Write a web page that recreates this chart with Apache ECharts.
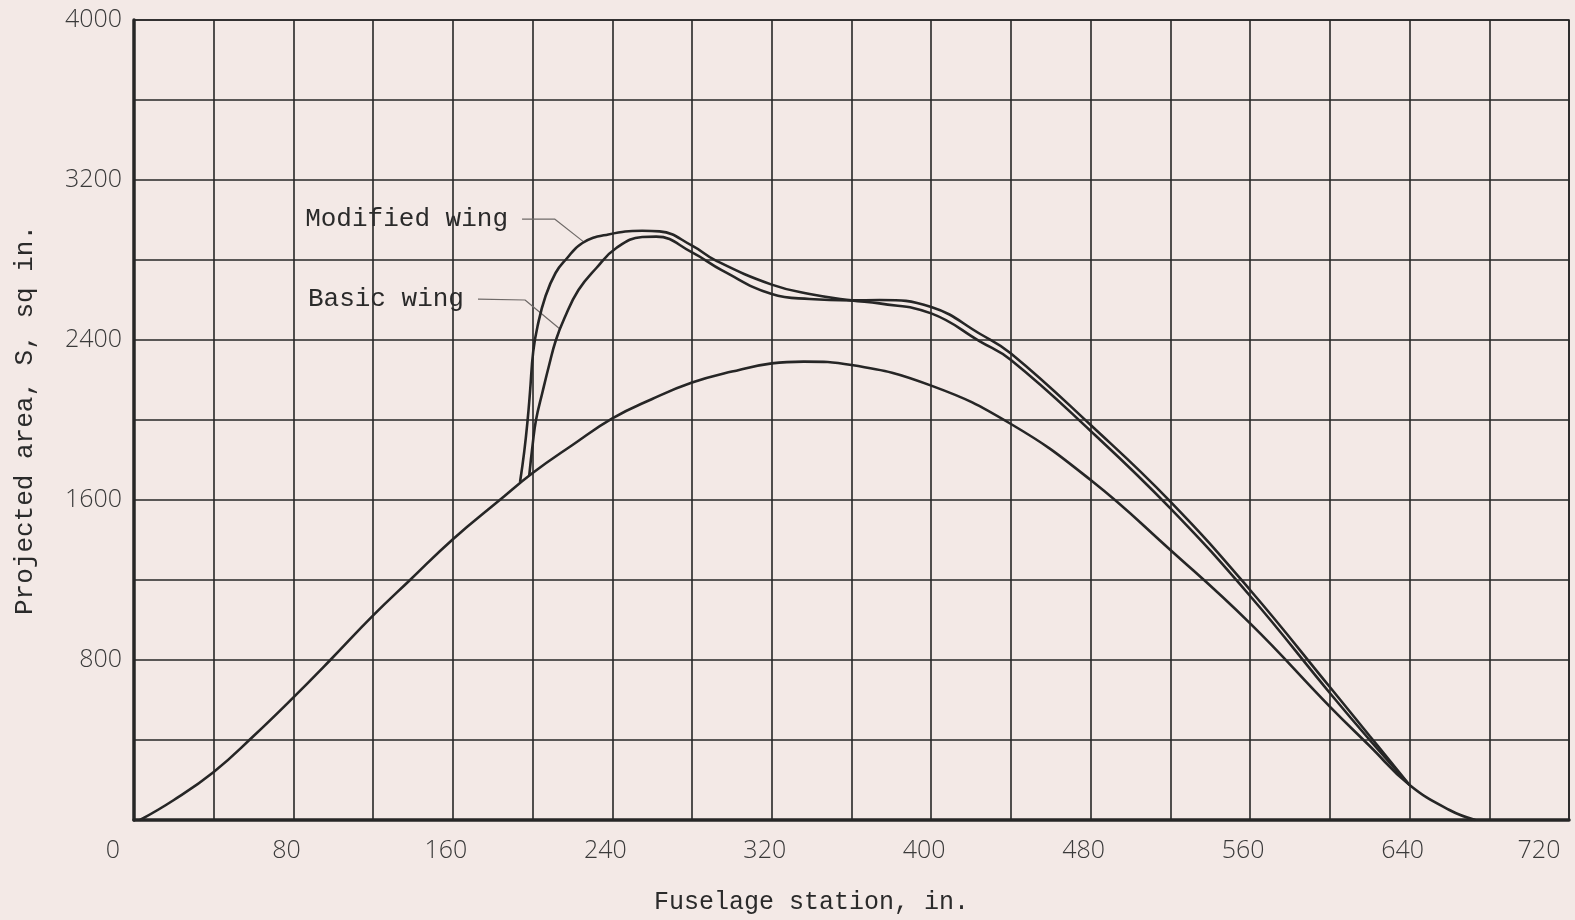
<!DOCTYPE html>
<html>
<head>
<meta charset="utf-8">
<title>Projected area distribution</title>
<script src="https://cdn.jsdelivr.net/npm/echarts@6/dist/echarts.min.js"></script>
<style>
  html, body { margin: 0; padding: 0; background: #f3e9e6; }
  #chart { width: 1575px; height: 920px; }
</style>
</head>
<body>
<div id="chart"></div>
<script>
// Fuselage alone
const stationFuselage = [3, 20, 40, 60, 80, 98.5, 120, 138.5, 160, 183.5, 200, 220, 240, 260, 280, 300, 320, 336, 360, 400, 440, 480, 520, 560, 600, 620, 640, 660, 673];
const areaFuselage   = [0, 100, 240, 420, 613, 800, 1023, 1200, 1404, 1600, 1735, 1875, 2008, 2105, 2187, 2242, 2283, 2292, 2275, 2172, 1980, 1700, 1350, 983, 567, 370, 175, 50, 0];

// Fuselage with modified wing
const stationModified = [193.7, 195.8, 197.5, 198.7, 200.3, 202.5, 206.5, 211.5, 216.5, 225, 238, 255, 263.7, 280, 292, 320, 339, 360, 374, 400, 424.6, 440, 480, 520, 560, 600, 620, 640];
const areaModified    = [1690, 1842, 2000, 2141, 2342, 2470, 2620, 2735, 2800, 2885, 2928, 2946, 2943, 2872, 2797, 2677, 2630, 2598, 2583, 2533, 2392, 2300, 1945, 1558, 1120, 635, 400, 175];

// Fuselage with basic wing
const stationBasic = [198.3, 200, 201.7, 205, 208.3, 211.7, 216, 223, 232, 242, 255, 262, 280, 295.3, 320, 339, 360, 374, 400, 424.6, 440, 480, 520, 560, 600, 620, 640];
const areaBasic    = [1722, 1875, 2000, 2141, 2275, 2400, 2510, 2650, 2760, 2860, 2915, 2917, 2838, 2747, 2630, 2605, 2598, 2600, 2565, 2430, 2333, 1975, 1592, 1150, 665, 420, 175];

// Curve labels with their leader lines (station, area)
const leaderModified = [[194.7, 3004], [211.2, 3004], [225.3, 2893]];
const leaderBasic    = [[172.6, 2604], [196.2, 2600], [213.7, 2455]];
const labelModified = 'Modified wing';
const labelBasic = 'Basic wing';

// Axis settings
const xMin = 0, xMax = 720, xStep = 40, xLabelStep = 80;
const yMin = 0, yMax = 4000, yStep = 400, yLabelStep = 800;
const xTitle = 'Fuselage station, in.';
const yTitle = 'Projected area, S, sq in.';

const pairs = (xs, ys) => xs.map((x, i) => [x, ys[i]]);

const ink = '#262626';
const mono = '"Liberation Mono", "Courier New", monospace';
const lettering = '"Open Sans", "DejaVu Sans", sans-serif';

function leaderSeries(points, text) {
  return {
    type: 'line',
    data: points.map((p, i) => i === 0 ? {
      value: p,
      label: {
        show: true, position: 'left', distance: 14, formatter: text,
        fontFamily: mono, fontSize: 26, color: '#2a2a2a'
      }
    } : { value: p }),
    showSymbol: true,
    symbol: 'circle',
    symbolSize: 0.1,
    lineStyle: { color: '#6f6a68', width: 1.2 },
    itemStyle: { color: '#6f6a68' },
    silent: true,
    z: 4
  };
}

function curveSeries(xs, ys) {
  return {
    type: 'line',
    data: pairs(xs, ys),
    smooth: 0.45,
    showSymbol: false,
    lineStyle: { color: ink, width: 2.6 },
    silent: true,
    z: 5
  };
}

const chart = echarts.init(document.getElementById('chart'), null, { renderer: 'canvas' });

const tickText = { fontFamily: lettering, fontWeight: 300, fontSize: 25, color: '#3a3a3a' };

chart.setOption({
  backgroundColor: '#f3e9e6',
  animation: false,
  grid: {
    left: 134, right: 6, top: 20, height: 800,
    show: true, borderColor: ink, borderWidth: 1.6, backgroundColor: 'transparent'
  },
  xAxis: {
    type: 'value', min: xMin, max: xMax, interval: xStep,
    name: xTitle, nameLocation: 'middle', nameGap: 70,
    nameTextStyle: { fontFamily: mono, fontSize: 25, color: '#2a2a2a', padding: [0, 80, 0, 0] },
    axisLine: { show: true, lineStyle: { color: ink, width: 3.5 } },
    axisTick: { show: false },
    splitLine: { show: true, lineStyle: { color: ink, width: 1.6 } },
    axisLabel: {
      margin: 18,
      formatter: v => {
        if (v % xLabelStep !== 0) return '';
        if (v === xMin) return '{first|' + v + '}';
        if (v === xMax) return '{last|' + v + '}';
        return '{mid|' + v + '}';
      },
      rich: {
        first: Object.assign({ padding: [0, 42, 0, 0] }, tickText),
        mid:   Object.assign({ padding: [0, 14, 0, 0] }, tickText),
        last:  Object.assign({ padding: [0, 60, 0, 0] }, tickText)
      }
    }
  },
  yAxis: {
    type: 'value', min: yMin, max: yMax, interval: yStep,
    name: yTitle, nameLocation: 'middle', nameGap: 96,
    nameTextStyle: { fontFamily: mono, fontSize: 26, color: '#2a2a2a' },
    axisLine: { show: true, lineStyle: { color: ink, width: 3.5 } },
    axisTick: { show: false },
    splitLine: { show: true, lineStyle: { color: ink, width: 1.6 } },
    axisLabel: Object.assign({
      margin: 12,
      formatter: v => (v > 0 && v % yLabelStep === 0) ? String(v) : ''
    }, tickText)
  },
  series: [
    curveSeries(stationFuselage, areaFuselage),
    curveSeries(stationModified, areaModified),
    curveSeries(stationBasic, areaBasic),
    leaderSeries(leaderModified, labelModified),
    leaderSeries(leaderBasic, labelBasic)
  ]
});
</script>
</body>
</html>
